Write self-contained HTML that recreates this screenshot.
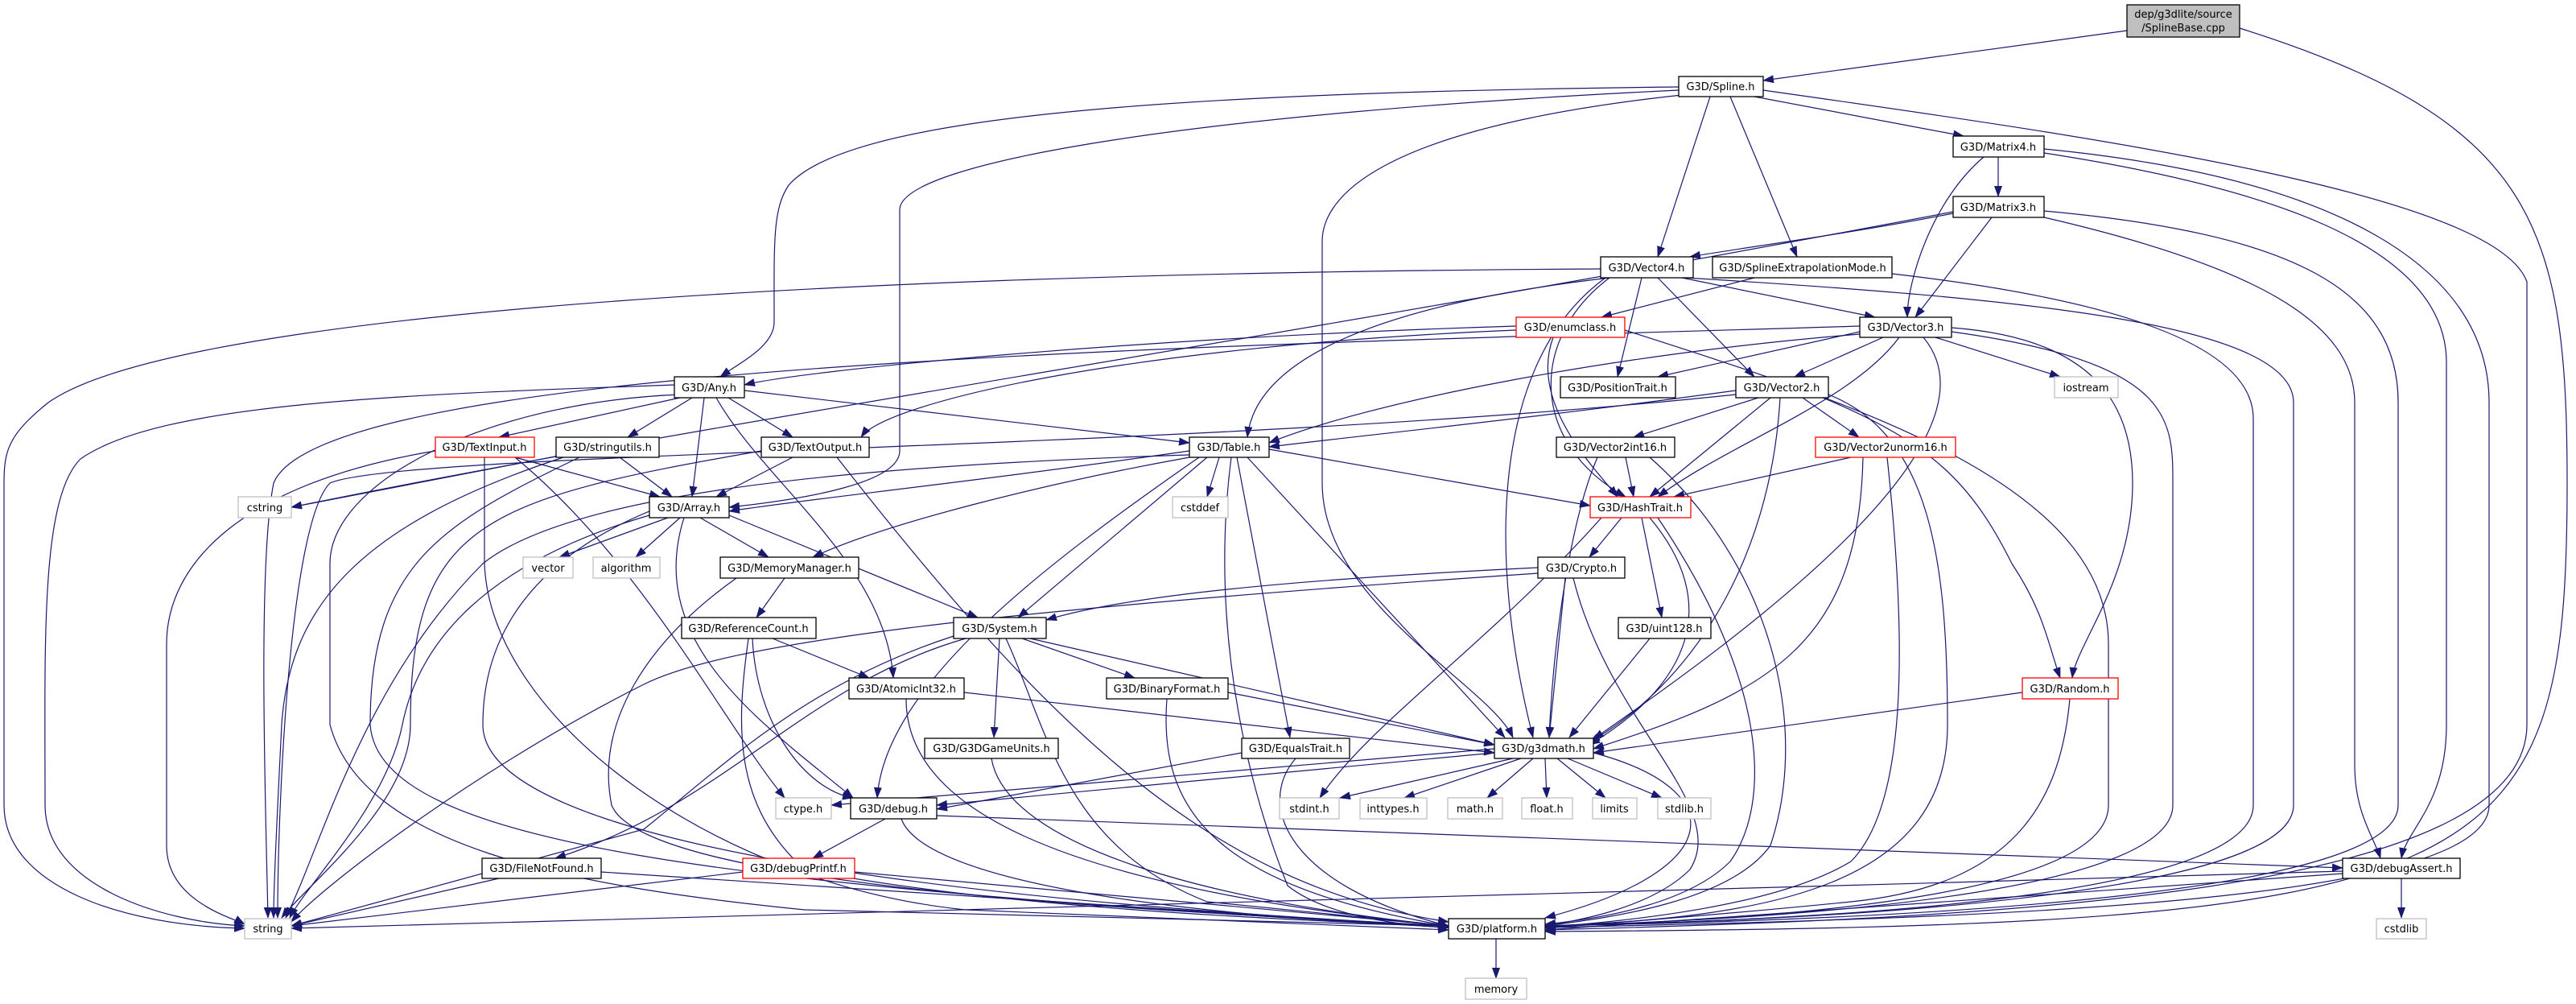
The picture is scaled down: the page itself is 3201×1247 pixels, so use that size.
<!DOCTYPE html>
<html><head><meta charset="utf-8"><style>
html,body{margin:0;padding:0;background:#fff;}
svg{display:block;}
text{font-family:"DejaVu Sans","Liberation Sans",sans-serif;font-size:13px;fill:#000;text-anchor:middle;}
.e{fill:none;stroke:#191970;stroke-width:1.2;marker-end:url(#a);}
.n{fill:#fff;stroke:#000;stroke-width:1.3;}
.r{fill:#fff;stroke:#ff0000;stroke-width:1.3;}
.g{fill:#fff;stroke:#bfbfbf;stroke-width:1.3;}
</style></head><body>
<svg width="3201" height="1247" viewBox="0 0 3201 1247" xmlns="http://www.w3.org/2000/svg">
<defs><marker id="a" markerUnits="userSpaceOnUse" markerWidth="14" markerHeight="10" refX="13" refY="5" orient="auto"><path d="M0,0 L14,5 L0,10 z" fill="#191970"/></marker></defs>
<g>
<path class="e" d="M2643,38 L2191,100"/>
<path class="e" d="M2783,35 C3150,150 3190,280 3190,600 C3190,1100 3100,1150 1920,1157"/>
<path class="e" d="M2180,120 L2440,169"/>
<path class="e" d="M2125,120 L2060,319"/>
<path class="e" d="M2150,120 L2233,319"/>
<path class="e" d="M2086,108 C1400,115 1050,150 980,230 C960,260 962,300 962,400 C962,430 920,450 895,468"/>
<path class="e" d="M2086,112 C1500,140 1120,200 1118,260 L1118,560 C1118,600 1000,620 906,630"/>
<path class="e" d="M2090,118 C1700,160 1643,250 1643,300 L1643,600 C1643,750 1850,850 1880,916"/>
<path class="e" d="M2191,112 C2600,170 3100,240 3140,350 L3140,900 C3140,1110 2500,1140 1920,1155"/>
<path class="e" d="M2483,195 L2483,244"/>
<path class="e" d="M2465,195 C2400,250 2370,350 2370,394"/>
<path class="e" d="M2540,185 C2900,220 3093,330 3093,500 L3093,1000 C3093,1120 2500,1140 1920,1152"/>
<path class="e" d="M2540,190 C2800,230 3040,300 3040,450 L3040,900 C3040,1000 2990,1030 2984,1066"/>
<path class="e" d="M2427,265 C2300,290 2150,310 2100,319"/>
<path class="e" d="M2475,270 L2380,394"/>
<path class="e" d="M2540,270 C2800,330 2926,400 2926,500 L2926,950 C2926,1010 2950,1040 2958,1066"/>
<path class="e" d="M2540,262 C2850,290 2980,360 2980,500 L2980,1000 C2980,1100 2500,1140 1920,1150"/>
<path class="e" d="M2427,263 C1600,420 900,520 362,630"/>
<path class="e" d="M1989,334 C900,340 200,400 60,500 C10,540 5,560 5,600 L5,1000 C5,1100 150,1150 304,1153"/>
<path class="e" d="M2000,345 C1700,380 1560,450 1550,543"/>
<path class="e" d="M2000,345 C1900,420 1900,550 2020,617"/>
<path class="e" d="M1995,345 C1850,450 1850,700 1905,916"/>
<path class="e" d="M2090,345 L2330,394"/>
<path class="e" d="M2060,345 L2180,468"/>
<path class="e" d="M2040,345 L2010,468"/>
<path class="e" d="M2095,345 C2500,370 2850,400 2850,500 L2850,1000 C2850,1100 2400,1140 1920,1150"/>
<path class="e" d="M2180,345 L1990,394"/>
<path class="e" d="M2351,340 C2700,380 2800,450 2800,520 L2800,1000 C2800,1100 2400,1140 1920,1150"/>
<path class="e" d="M1884,410 C1400,430 1100,500 1070,543"/>
<path class="e" d="M1930,419 C1900,500 1980,580 2010,617"/>
<path class="e" d="M2019,410 C2300,500 2620,600 2620,800 L2620,1000 C2620,1100 2300,1140 1920,1150"/>
<path class="e" d="M1884,405 C1400,420 1000,460 925,478"/>
<path class="e" d="M2340,419 L2230,468"/>
<path class="e" d="M2320,410 L2060,468"/>
<path class="e" d="M2405,419 L2560,468"/>
<path class="e" d="M2425,407 C2600,420 2650,500 2650,600 C2650,720 2580,800 2575,842"/>
<path class="e" d="M2265,494 C2400,550 2450,600 2500,700 C2540,760 2545,800 2560,842"/>
<path class="e" d="M2360,419 C2300,500 2150,550 2060,617"/>
<path class="e" d="M2390,419 C2500,550 2150,800 1980,918"/>
<path class="e" d="M2425,412 C2700,450 2700,520 2700,600 L2700,1000 C2700,1100 2300,1140 1920,1150"/>
<path class="e" d="M2311,415 C2000,440 1700,500 1577,550"/>
<path class="e" d="M2311,405 C1500,430 400,450 340,600 C320,700 330,1000 333,1140"/>
<path class="e" d="M2157,485 C1900,520 1700,540 1577,555"/>
<path class="e" d="M2157,490 C1500,560 500,560 410,600 C360,650 345,1000 345,1140"/>
<path class="e" d="M2185,494 L2030,543"/>
<path class="e" d="M2240,494 L2310,543"/>
<path class="e" d="M2200,494 L2050,617"/>
<path class="e" d="M2212,494 C2200,700 2100,850 1975,922"/>
<path class="e" d="M2272,490 C2400,540 2420,700 2420,900 C2420,1100 2200,1140 1920,1150"/>
<path class="e" d="M2020,568 L2030,617"/>
<path class="e" d="M1985,568 C1950,650 1930,800 1925,916"/>
<path class="e" d="M2050,568 C2200,700 2250,900 2200,1050 C2150,1120 2000,1140 1920,1150"/>
<path class="e" d="M2300,568 L2080,617"/>
<path class="e" d="M2315,568 C2310,800 2200,860 1980,930"/>
<path class="e" d="M2345,568 C2370,800 2370,1000 2300,1070 C2200,1130 2000,1145 1920,1152"/>
<path class="e" d="M2015,643 L1975,692"/>
<path class="e" d="M2040,643 L2065,767"/>
<path class="e" d="M2050,643 C2140,750 2100,850 1975,925"/>
<path class="e" d="M2060,643 C2200,850 2200,1000 2150,1070 C2100,1120 2000,1140 1920,1148"/>
<path class="e" d="M1990,643 C1850,800 1700,900 1640,991"/>
<path class="e" d="M1911,705 C1600,720 1400,740 1300,770"/>
<path class="e" d="M1945,718 L1925,916"/>
<path class="e" d="M1955,718 C2000,900 2150,1000 2100,1080 C2050,1130 1950,1145 1920,1150"/>
<path class="e" d="M1911,712 C1200,760 900,800 800,850 C600,950 400,1100 362,1145"/>
<path class="e" d="M2050,793 L1950,916"/>
<path class="e" d="M2513,860 L1980,935"/>
<path class="e" d="M2572,868 C2560,1000 2500,1100 2300,1120 C2100,1140 1950,1150 1920,1153"/>
<path class="e" d="M925,485 L1478,550"/>
<path class="e" d="M875,494 L860,617"/>
<path class="e" d="M845,494 L620,543"/>
<path class="e" d="M860,494 L780,543"/>
<path class="e" d="M905,494 L985,543"/>
<path class="e" d="M890,494 C950,600 1100,700 1110,842"/>
<path class="e" d="M838,478 C500,490 200,500 100,570 C50,620 56,800 56,1000 C56,1100 200,1145 304,1150"/>
<path class="e" d="M845,490 C600,500 410,600 410,700 L410,900 C450,1050 700,1100 1000,1130 L1800,1150"/>
<path class="e" d="M640,568 L820,617"/>
<path class="e" d="M541,560 C300,600 207,700 207,800 L207,1050 C207,1120 290,1140 304,1148"/>
<path class="e" d="M602,568 L602,700 C610,900 900,1100 1200,1130 L1800,1155"/>
<path class="e" d="M640,568 C800,700 900,900 975,991"/>
<path class="e" d="M770,568 L835,617"/>
<path class="e" d="M700,565 L362,630"/>
<path class="e" d="M700,568 C450,650 360,750 350,900 C345,1000 340,1100 340,1140"/>
<path class="e" d="M720,568 C550,650 460,700 460,900 C470,1050 900,1100 1800,1152"/>
<path class="e" d="M985,568 L890,617"/>
<path class="e" d="M946,560 C600,620 510,650 510,900 C510,1000 380,1100 350,1140"/>
<path class="e" d="M1040,568 C1300,900 1500,1100 1800,1145"/>
<path class="e" d="M1478,560 C1200,600 1000,620 906,635"/>
<path class="e" d="M1478,568 C1300,600 1100,650 1010,692"/>
<path class="e" d="M1500,568 L1265,767"/>
<path class="e" d="M1515,568 L1500,617"/>
<path class="e" d="M1577,558 L1976,628"/>
<path class="e" d="M1537,568 L1603,916"/>
<path class="e" d="M1550,568 L1870,916"/>
<path class="e" d="M1490,568 C1300,700 1100,850 1090,991"/>
<path class="e" d="M1530,568 C1500,800 1560,1000 1600,1100 C1650,1140 1750,1150 1800,1152"/>
<path class="e" d="M1478,565 C1000,580 700,620 600,700 C450,850 400,1050 355,1140"/>
<path class="e" d="M830,643 L695,692"/>
<path class="e" d="M845,643 L790,692"/>
<path class="e" d="M870,643 L955,692"/>
<path class="e" d="M906,640 C1050,700 1150,740 1215,767"/>
<path class="e" d="M850,643 C800,800 950,900 1060,991"/>
<path class="e" d="M807,635 C650,700 600,800 600,900 C600,1050 1200,1120 1800,1150"/>
<path class="e" d="M807,640 C600,700 520,800 500,900 C480,1000 380,1100 360,1140"/>
<path class="e" d="M975,718 L940,767"/>
<path class="e" d="M915,718 C800,800 740,900 760,1000 C800,1100 1400,1130 1800,1150"/>
<path class="e" d="M960,793 L1080,842"/>
<path class="e" d="M935,793 C940,900 1000,980 1060,991"/>
<path class="e" d="M930,793 C915,900 910,1000 1000,1080 C1200,1120 1500,1140 1800,1150"/>
<path class="e" d="M1242,793 L1235,916"/>
<path class="e" d="M1270,793 L1410,842"/>
<path class="e" d="M1280,793 L1857,925"/>
<path class="e" d="M1250,793 C1300,900 1320,1050 1500,1120 L1800,1150"/>
<path class="e" d="M1185,790 C1000,850 900,950 800,1030 L362,1150"/>
<path class="e" d="M1200,793 C1000,850 900,1000 690,1066"/>
<path class="e" d="M1198,860 L1857,935"/>
<path class="e" d="M1126,868 C1126,1000 1300,1100 1800,1150"/>
<path class="e" d="M1526,860 L1857,925"/>
<path class="e" d="M1450,868 C1440,1000 1500,1100 1800,1150"/>
<path class="e" d="M1232,942 C1250,1050 1500,1120 1800,1150"/>
<path class="e" d="M1610,942 C1560,1000 1600,1100 1800,1150"/>
<path class="e" d="M1543,935 L1164,1005"/>
<path class="e" d="M1857,935 L1164,1000"/>
<path class="e" d="M1857,930 L1033,1000"/>
<path class="e" d="M1880,942 L1665,991"/>
<path class="e" d="M1890,942 L1745,991"/>
<path class="e" d="M1905,942 L1848,991"/>
<path class="e" d="M1920,942 L1922,991"/>
<path class="e" d="M1935,942 L1995,991"/>
<path class="e" d="M1948,942 L2065,991"/>
<path class="e" d="M1980,935 C2150,980 2150,1080 1920,1140"/>
<path class="e" d="M1100,1017 L1010,1066"/>
<path class="e" d="M1164,1013 L2911,1078"/>
<path class="e" d="M1120,1017 C1150,1100 1500,1140 1800,1150"/>
<path class="e" d="M1062,1083 L1800,1150"/>
<path class="e" d="M923,1083 L362,1150"/>
<path class="e" d="M620,1091 L362,1150"/>
<path class="e" d="M747,1083 L1800,1152"/>
<path class="e" d="M2984,1091 L2984,1140"/>
<path class="e" d="M2911,1085 L1920,1155"/>
<path class="e" d="M2911,1082 C2000,1110 1000,1130 362,1153"/>
<path class="e" d="M1859,1166 L1859,1215"/>
</g>
<g>
<rect x="2643" y="6" width="140" height="40" fill="#bfbfbf" stroke="#000" stroke-width="1.3"/>
<text x="2713" y="22">dep/g3dlite/source</text><text x="2713" y="39">/SplineBase.cpp</text>
<rect class="n" x="2086" y="95" width="105" height="25"/><text x="2138" y="112">G3D/Spline.h</text>
<rect class="n" x="2427" y="169" width="113" height="26"/><text x="2483" y="187">G3D/Matrix4.h</text>
<rect class="n" x="2427" y="244" width="113" height="26"/><text x="2483" y="262">G3D/Matrix3.h</text>
<rect class="n" x="1989" y="319" width="115" height="26"/><text x="2046" y="337">G3D/Vector4.h</text>
<rect class="n" x="2128" y="319" width="223" height="26"/><text x="2240" y="337">G3D/SplineExtrapolationMode.h</text>
<rect class="r" x="1884" y="394" width="135" height="25"/><text x="1951" y="411">G3D/enumclass.h</text>
<rect class="n" x="2311" y="394" width="114" height="25"/><text x="2368" y="411">G3D/Vector3.h</text>
<rect class="n" x="838" y="468" width="87" height="26"/><text x="881" y="486">G3D/Any.h</text>
<rect class="n" x="1939" y="468" width="143" height="26"/><text x="2010" y="486">G3D/PositionTrait.h</text>
<rect class="n" x="2157" y="468" width="115" height="26"/><text x="2214" y="486">G3D/Vector2.h</text>
<rect class="g" x="2553" y="468" width="79" height="26"/><text x="2592" y="486">iostream</text>
<rect class="r" x="541" y="543" width="123" height="25"/><text x="602" y="560">G3D/TextInput.h</text>
<rect class="n" x="691" y="543" width="128" height="25"/><text x="755" y="560">G3D/stringutils.h</text>
<rect class="n" x="946" y="543" width="134" height="25"/><text x="1013" y="560">G3D/TextOutput.h</text>
<rect class="n" x="1478" y="543" width="99" height="25"/><text x="1527" y="560">G3D/Table.h</text>
<rect class="n" x="1934" y="543" width="147" height="25"/><text x="2007" y="560">G3D/Vector2int16.h</text>
<rect class="r" x="2256" y="543" width="174" height="25"/><text x="2343" y="560">G3D/Vector2unorm16.h</text>
<rect class="g" x="296" y="617" width="66" height="26"/><text x="329" y="635">cstring</text>
<rect class="n" x="807" y="617" width="99" height="26"/><text x="856" y="635">G3D/Array.h</text>
<rect class="g" x="1457" y="617" width="69" height="26"/><text x="1491" y="635">cstddef</text>
<rect class="r" x="1976" y="617" width="125" height="26"/><text x="2038" y="635">G3D/HashTrait.h</text>
<rect class="g" x="650" y="692" width="62" height="26"/><text x="681" y="710">vector</text>
<rect class="g" x="737" y="692" width="83" height="26"/><text x="778" y="710">algorithm</text>
<rect class="n" x="895" y="692" width="172" height="26"/><text x="981" y="710">G3D/MemoryManager.h</text>
<rect class="n" x="1911" y="692" width="108" height="26"/><text x="1965" y="710">G3D/Crypto.h</text>
<rect class="n" x="847" y="767" width="167" height="26"/><text x="930" y="785">G3D/ReferenceCount.h</text>
<rect class="n" x="1185" y="767" width="115" height="26"/><text x="1242" y="785">G3D/System.h</text>
<rect class="n" x="2011" y="767" width="115" height="26"/><text x="2068" y="785">G3D/uint128.h</text>
<rect class="n" x="1055" y="842" width="143" height="26"/><text x="1126" y="860">G3D/AtomicInt32.h</text>
<rect class="n" x="1375" y="842" width="151" height="26"/><text x="1450" y="860">G3D/BinaryFormat.h</text>
<rect class="r" x="2513" y="842" width="119" height="26"/><text x="2572" y="860">G3D/Random.h</text>
<rect class="n" x="1149" y="917" width="166" height="25"/><text x="1232" y="934">G3D/G3DGameUnits.h</text>
<rect class="n" x="1543" y="917" width="134" height="25"/><text x="1610" y="934">G3D/EqualsTrait.h</text>
<rect class="n" x="1857" y="917" width="123" height="25"/><text x="1918" y="934">G3D/g3dmath.h</text>
<rect class="g" x="964" y="991" width="69" height="26"/><text x="998" y="1009">ctype.h</text>
<rect class="n" x="1057" y="991" width="107" height="26"/><text x="1110" y="1009">G3D/debug.h</text>
<rect class="g" x="1590" y="991" width="74" height="26"/><text x="1627" y="1009">stdint.h</text>
<rect class="g" x="1690" y="991" width="83" height="26"/><text x="1731" y="1009">inttypes.h</text>
<rect class="g" x="1799" y="991" width="68" height="26"/><text x="1833" y="1009">math.h</text>
<rect class="g" x="1891" y="991" width="63" height="26"/><text x="1922" y="1009">float.h</text>
<rect class="g" x="1979" y="991" width="55" height="26"/><text x="2006" y="1009">limits</text>
<rect class="g" x="2060" y="991" width="66" height="26"/><text x="2093" y="1009">stdlib.h</text>
<rect class="n" x="599" y="1066" width="148" height="25"/><text x="673" y="1083">G3D/FileNotFound.h</text>
<rect class="r" x="923" y="1066" width="139" height="25"/><text x="992" y="1083">G3D/debugPrintf.h</text>
<rect class="n" x="2911" y="1066" width="146" height="25"/><text x="2984" y="1083">G3D/debugAssert.h</text>
<rect class="g" x="304" y="1141" width="58" height="25"/><text x="333" y="1158">string</text>
<rect class="n" x="1800" y="1141" width="120" height="25"/><text x="1860" y="1158">G3D/platform.h</text>
<rect class="g" x="2953" y="1141" width="62" height="25"/><text x="2984" y="1158">cstdlib</text>
<rect class="g" x="1821" y="1215" width="76" height="26"/><text x="1859" y="1233">memory</text>
</g>
</svg>
</body></html>
